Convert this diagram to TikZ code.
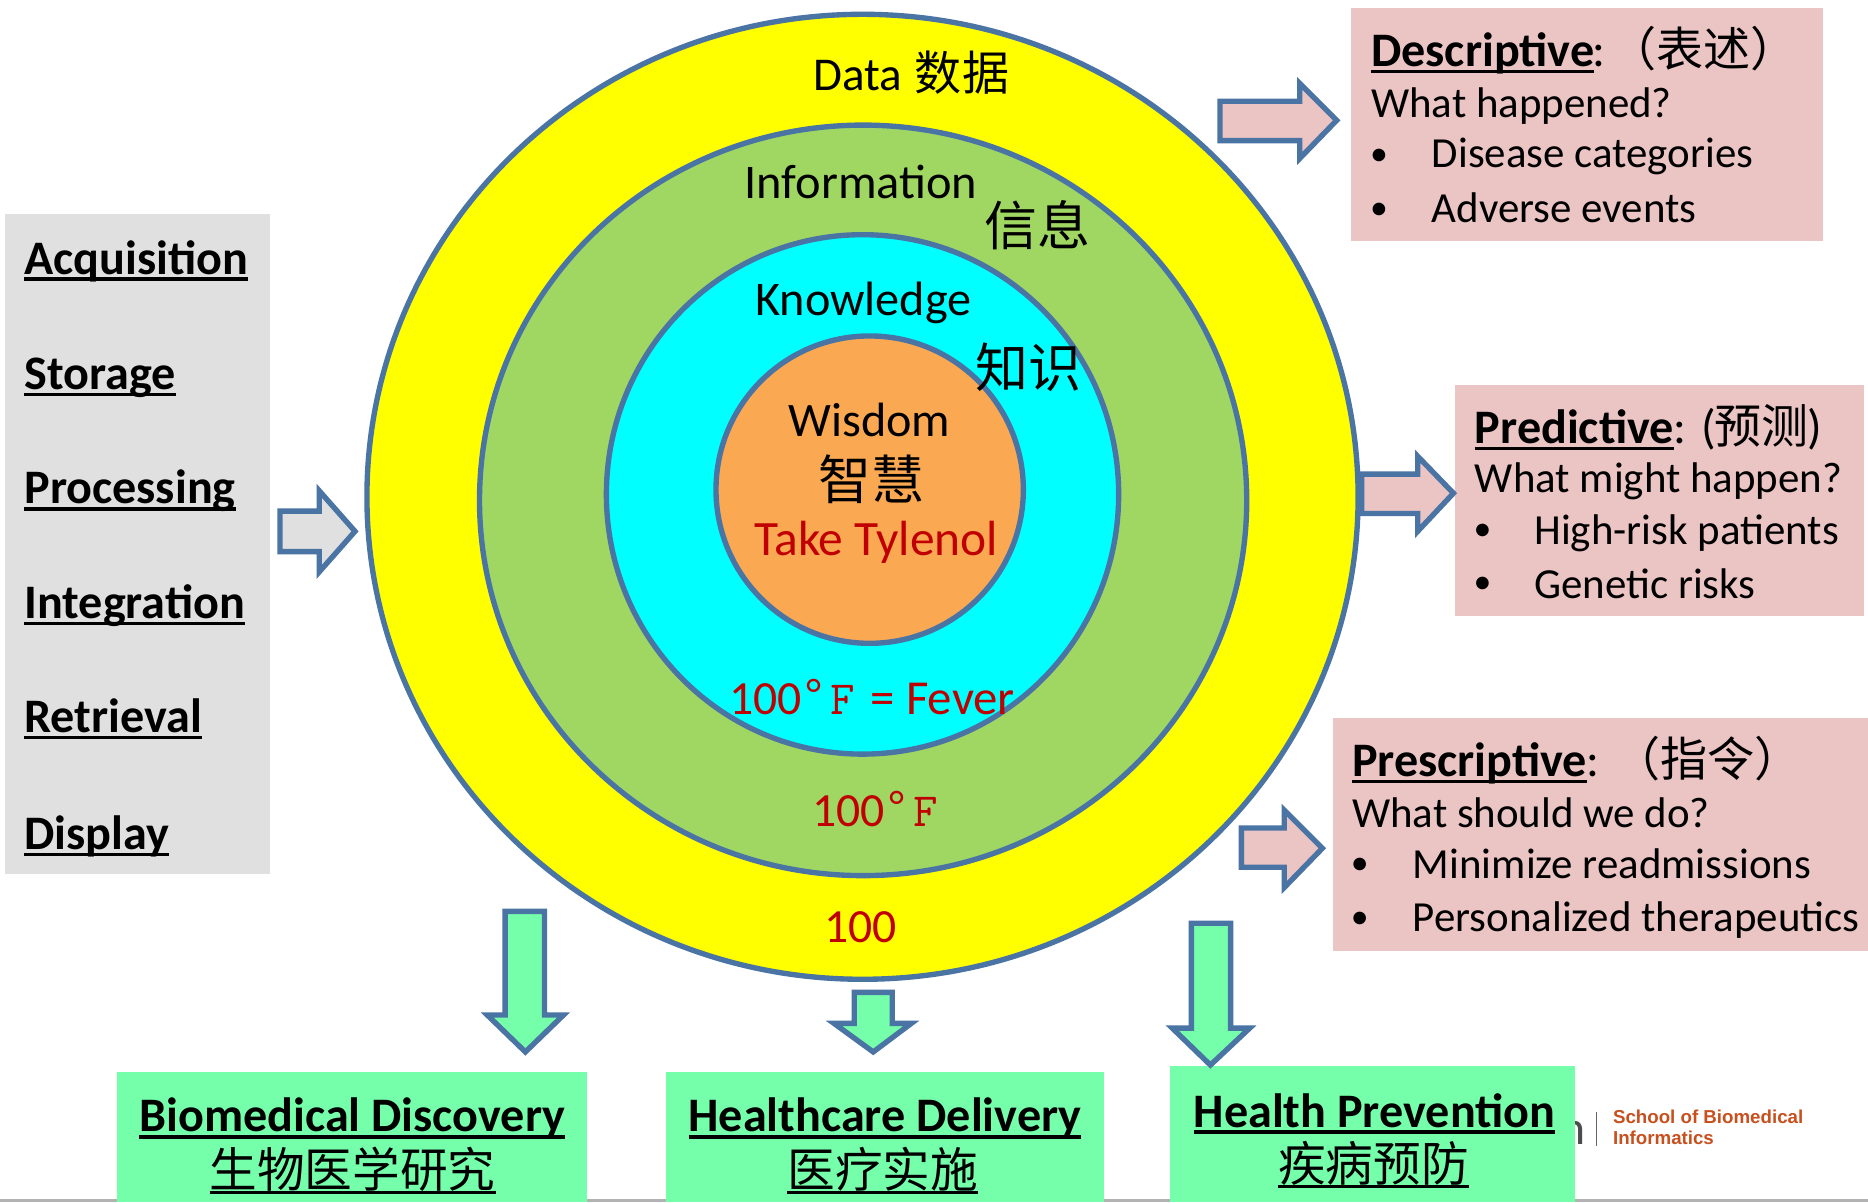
\documentclass[tikz,border=0pt]{standalone}
\usepackage{fontspec}
\setmainfont{Carlito}
\newfontfamily\cjk{Noto Sans CJK SC}
\newfontfamily\logof{Liberation Sans}
\definecolor{edge}{RGB}{74,116,164}
\definecolor{pinkbg}{RGB}{235,196,196}
\definecolor{mint}{RGB}{117,255,170}
\definecolor{greyb}{RGB}{224,224,224}
\definecolor{ringgreen}{RGB}{160,214,98}
\definecolor{ringorange}{RGB}{251,168,82}
\definecolor{ringyellow}{RGB}{255,255,0}
\definecolor{ringcyan}{RGB}{0,255,255}
\definecolor{redtxt}{RGB}{192,0,0}
\definecolor{logoc}{RGB}{200,80,30}
\newsavebox\ubox
\newcommand\ulx[1]{\sbox\ubox{#1}\usebox\ubox\hspace{-\wd\ubox}\rule[-.14em]{\wd\ubox}{.07em}}
\newcommand\sz[1]{\fontsize{#1pt}{#1pt}\selectfont}
\tikzset{
 txt/.style={anchor=base west,inner sep=0pt,outer sep=0pt},
 ring/.style={draw=edge,line width=4.5pt},
 blockarrow/.style={draw=edge,line width=4.5pt,miter limit=10},
}
\newcommand\tx[5][]{\node[txt,#1] (#2) at (#3,#4) {#5};}
\begin{document}
\begin{tikzpicture}[x=1pt,y=-1pt]
\useasboundingbox (0,0) rectangle (1568,1009);
\fill[white] (0,0) rectangle (1568,1009);
% logo remnants and grey rule
\fill[black!30] (0,1006.5) rectangle (1568,1009);
\tx[text=black!70]{logoN}{1310}{961}{\sz{40}n}
\tx[text=black!70]{logoS}{1318}{981}{\sz{11}s}
\tx[text=black!70]{logoM}{1318}{993}{\sz{9}n}
\draw[black!60,line width=1pt] (1340,933) -- (1340,962);
\tx[text=logoc,font=\logof\bfseries]{logoA}{1354}{943}{\sz{15.7}School of Biomedical}
\tx[text=logoc,font=\logof\bfseries]{logoB}{1354}{961}{\sz{15.7}Informatics}
% boxes
\fill[greyb] (4,180) rectangle (227,734);
\fill[pinkbg] (1134,7) rectangle (1530,202);
\fill[pinkbg] (1221,323) rectangle (1565,517);
\fill[pinkbg] (1119,603) rectangle (1568,798);
\fill[mint] (98,900) rectangle (493,1009);
\fill[mint] (559,900) rectangle (927,1009);
\fill[mint] (982,895) rectangle (1322,1009);
% rings
\draw[ring,fill=ringyellow] (724,417) ellipse [x radius=416,y radius=405];
\draw[ring,fill=ringgreen] (724.5,420) ellipse [x radius=322,y radius=315];
\draw[ring,fill=ringcyan] (724,415) ellipse [x radius=215,y radius=218];
\draw[ring,fill=ringorange] (730,411) circle [radius=129];
% side arrows
\draw[blockarrow,fill=greyb] (235,429) -- (268,429) -- (268,412) -- (298,446) -- (268,480) -- (268,463) -- (235,463) -- cycle;
\draw[blockarrow,fill=pinkbg] (1024,85) -- (1091,85) -- (1091,70) -- (1122,101) -- (1091,133) -- (1091,118) -- (1024,118) -- cycle;
\draw[blockarrow,fill=pinkbg] (1143,398) -- (1190,398) -- (1190,383) -- (1220,414) -- (1190,446) -- (1190,431) -- (1143,431) -- cycle;
\draw[blockarrow,fill=pinkbg] (1042,695) -- (1078,695) -- (1078,680) -- (1110,712) -- (1078,745) -- (1078,728) -- (1042,728) -- cycle;
% down arrows
\draw[blockarrow,fill=mint] (424,765) -- (457,765) -- (457,852) -- (473,852) -- (441,883) -- (409,852) -- (424,852) -- cycle;
\draw[blockarrow,fill=mint] (717,833) -- (749,833) -- (749,859) -- (765,859) -- (733,883) -- (700,859) -- (717,859) -- cycle;
\draw[blockarrow,fill=mint] (1000,775) -- (1033,775) -- (1033,863) -- (1049,863) -- (1016,894) -- (984,863) -- (1000,863) -- cycle;
% ring labels
\tx{data}{683}{76}{\sz{39.5}Data}
\tx{datacn}{768}{76}{\sz{39.5}\cjk 数据}
\tx{info}{625}{167}{\sz{40.6}Information}
\tx{infocn}{826}{206}{\sz{44.5}\cjk 信息}
\tx{know}{634}{265}{\sz{40.5}Knowledge}
\tx{knowcn}{819}{325}{\sz{44.5}\cjk 知识}
\tx{wis}{662}{366}{\sz{40.4}Wisdom}
\tx{wiscn}{687}{419}{\sz{44.5}\cjk 智慧}
\tx[text=redtxt]{take}{633}{466}{\sz{41.5}Take Tylenol}
\tx[text=redtxt]{feverA}{612}{600}{\sz{40}100}
\tx[text=redtxt]{feverB}{675}{598}{\sz{40}\logof °}
\tx[text=redtxt]{feverC}{697}{600}{\sz{40}\ttfamily F}
\tx[text=redtxt]{feverD}{731}{600}{\sz{41}= Fever}
\tx[text=redtxt]{tempA}{682}{694}{\sz{40}100}
\tx[text=redtxt]{tempB}{745}{692}{\sz{40}\logof °}
\tx[text=redtxt]{tempC}{767}{694}{\sz{40}\ttfamily F}
\tx[text=redtxt]{hundred}{692}{791}{\sz{40}100}
% left list
\tx{l1}{20.5}{230}{\sz{40.4}\bfseries\ulx{Acquisition}}
\tx{l2}{20.5}{327}{\sz{40.4}\bfseries\ulx{Storage}}
\tx{l3}{20.5}{423}{\sz{40.4}\bfseries\ulx{Processing}}
\tx{l4}{20.5}{519}{\sz{40.4}\bfseries\ulx{Integration}}
\tx{l5}{20.5}{615}{\sz{40.4}\bfseries\ulx{Retrieval}}
\tx{l6}{20.5}{713}{\sz{40.4}\bfseries\ulx{Display}}
% Descriptive
\tx{d1}{1151}{56}{\sz{40.4}\bfseries\ulx{Descriptive}}
\tx{d1b}{1337}{56}{\sz{40.4}:}
\tx{d1c}{1351}{56}{\sz{39.5}\cjk （表述）}
\tx{d2}{1151}{99}{\sz{36}What happened?}
\tx{d3a}{1150}{139}{\sz{30}•}
\tx{d3}{1202}{141}{\sz{36}Disease categories}
\tx{d4a}{1150}{184}{\sz{30}•}
\tx{d4}{1202}{187}{\sz{36}Adverse events}
% Predictive
\tx{p1}{1238}{372}{\sz{40.4}\bfseries\ulx{Predictive}}
\tx{p1b}{1405}{372}{\sz{40.4}: (}
\tx{p1c}{1439}{372}{\sz{39.5}\cjk 预测}
\tx{p1d}{1517}{372}{\sz{40.4})}
\tx{p2}{1238}{413}{\sz{36}What might happen?}
\tx{p3a}{1237}{454}{\sz{30}•}
\tx{p3}{1288}{457}{\sz{36}High-risk patients}
\tx{p4a}{1237}{498}{\sz{30}•}
\tx{p4}{1288}{502}{\sz{36}Genetic risks}
% Prescriptive
\tx{r1}{1135}{652}{\sz{40.4}\bfseries\ulx{Prescriptive}}
\tx{r1b}{1332}{652}{\sz{40.4}:}
\tx{r1c}{1354}{652}{\sz{39.5}\cjk （指令）}
\tx{r2}{1135}{695}{\sz{36}What should we do?}
\tx{r3a}{1134}{734}{\sz{30}•}
\tx{r3}{1186}{737}{\sz{36}Minimize readmissions}
\tx{r4a}{1134}{779}{\sz{30}•}
\tx{r4}{1186}{782}{\sz{36}Personalized therapeutics}
% bottom boxes
\tx{b1}{117}{950}{\sz{40.4}\bfseries\ulx{Biomedical Discovery}}
\tx{b1c}{176}{997}{\sz{40}\cjk\ulx{生物医学研究}}
\tx{b2}{578}{950}{\sz{40.4}\bfseries\ulx{Healthcare Delivery}}
\tx{b2c}{661}{997}{\sz{40}\cjk\ulx{医疗实施}}
\tx{b3}{1002}{946}{\sz{40.4}\bfseries\ulx{Health Prevention}}
\tx{b3c}{1073}{992}{\sz{40}\cjk\ulx{疾病预防}}
\end{tikzpicture}
\end{document}
